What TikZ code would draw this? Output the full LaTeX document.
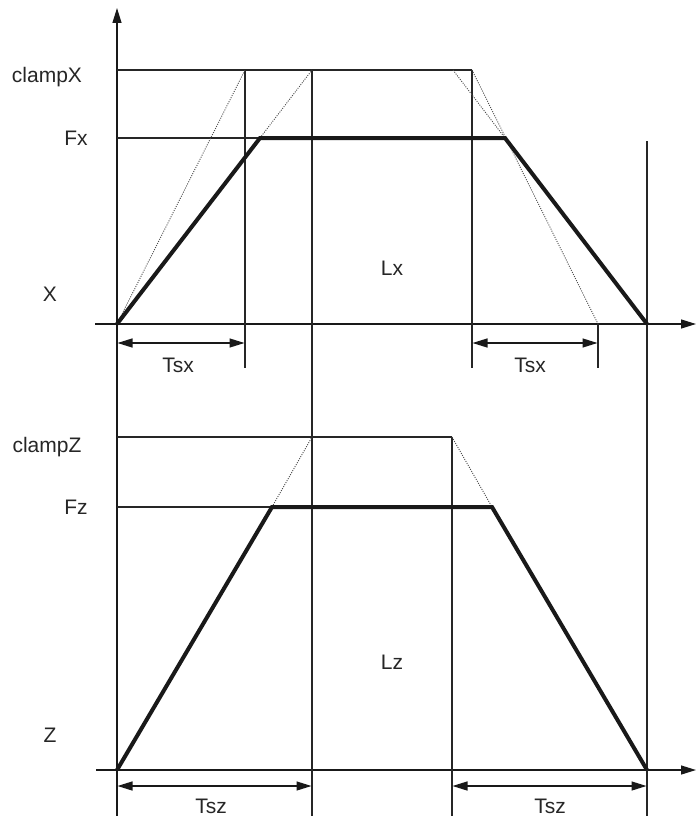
\documentclass[tikz,border=0pt]{standalone}
\usepackage{fontspec}
\setmainfont{Liberation Sans}
\usetikzlibrary{arrows.meta}
\begin{document}
\begin{tikzpicture}[x=1pt,y=-1pt,
  gridline/.style={line width=1.2pt, draw=black!85},
  ramp/.style={line width=4pt, draw=black!90, line join=miter},
  dotline/.style={line width=0.9pt, draw=black!70, dash pattern=on 1pt off 1.3pt},
  axisline/.style={line width=1.3pt, draw=black!90, -{Triangle[length=15pt,width=9pt]}},
  dimarrow/.style={line width=1.3pt, draw=black!90, {Triangle[length=15pt,width=9pt]}-{Triangle[length=15pt,width=9pt]}, shorten <=0.5pt, shorten >=0.5pt},
  lbl/.style={font=\fontsize{21}{25}\selectfont, text=black!85, inner sep=0pt}]
\useasboundingbox (0,0) rectangle (696,816);
% ---------- coordinates ----------
\coordinate (ytop) at (117,8);
\coordinate (ybot) at (117,816);
% top graph
\coordinate (O1) at (117,324);
\coordinate (A1) at (260,138);
\coordinate (B1) at (505,138);
\coordinate (E1) at (647,324);
\coordinate (xl1) at (95,324);
\coordinate (xr1) at (696,324);
\coordinate (cx0) at (117,70);
\coordinate (cx1) at (245,70);
\coordinate (cx2) at (312,70);
\coordinate (cx3) at (453,70);
\coordinate (cx4) at (472,70);
\coordinate (fx0) at (117,138);
\coordinate (v1b) at (245,368);
\coordinate (v4b) at (472,368);
\coordinate (t5a) at (598,324);
\coordinate (t5b) at (598,368);
\coordinate (v6t) at (647,141);
\coordinate (v6b) at (647,816);
\coordinate (v2b) at (312,816);
\coordinate (dA1) at (117,343);
\coordinate (dB1) at (245,343);
\coordinate (dC1) at (472,343);
\coordinate (dD1) at (598,343);
% bottom graph
\coordinate (O2) at (117,770);
\coordinate (A2) at (272,507);
\coordinate (B2) at (492,507);
\coordinate (E2) at (647,770);
\coordinate (xl2) at (96,770);
\coordinate (xr2) at (696,770);
\coordinate (cz0) at (117,437);
\coordinate (cz2) at (312,437);
\coordinate (cz3) at (452,437);
\coordinate (fz0) at (117,507);
\coordinate (v3b) at (452,816);
\coordinate (dA2) at (117,786);
\coordinate (dB2) at (312,786);
\coordinate (dC2) at (452,786);
\coordinate (dD2) at (647,786);
% ---------- grid lines ----------
\draw[axisline] (ybot) -- (ytop);
\draw[axisline] (xl1) -- (xr1);
\draw[axisline] (xl2) -- (xr2);
\draw[gridline] (cx0) -- (cx4);
\draw[gridline] (fx0) -- (B1);
\draw[gridline] (cx1) -- (v1b);
\draw[gridline] (cx2) -- (v2b);
\draw[gridline] (cx4) -- (v4b);
\draw[gridline] (t5a) -- (t5b);
\draw[gridline] (v6t) -- (v6b);
\draw[gridline] (cz0) -- (cz3);
\draw[gridline] (fz0) -- (B2);
\draw[gridline] (cz3) -- (v3b);
% ---------- dotted ----------
\draw[dotline] (O1) -- (cx1);
\draw[dotline] (A1) -- (cx2);
\draw[dotline] (cx3) -- (B1);
\draw[dotline] (cx4) -- (t5a);
\draw[dotline] (A2) -- (cz2);
\draw[dotline] (cz3) -- (B2);
% ---------- ramps ----------
\draw[ramp] (O1) -- (A1) -- (B1) -- (E1);
\draw[ramp] (O2) -- (A2) -- (B2) -- (E2);
% ---------- dimension arrows ----------
\draw[dimarrow] (dA1) -- (dB1);
\draw[dimarrow] (dC1) -- (dD1);
\draw[dimarrow] (dA2) -- (dB2);
\draw[dimarrow] (dC2) -- (dD2);
% ---------- labels ----------
\node[lbl] (lclampX) at (47,77) {clampX};
\node[lbl] (lFx) at (76,138) {Fx};
\node[lbl] (lX) at (50,294) {X};
\node[lbl] (lLx) at (392,268) {Lx};
\node[lbl] (lTsx1) at (178,365) {Tsx};
\node[lbl] (lTsx2) at (530,365) {Tsx};
\node[lbl] (lclampZ) at (47,447) {clampZ};
\node[lbl] (lFz) at (76,507) {Fz};
\node[lbl] (lZ) at (50,735) {Z};
\node[lbl] (lLz) at (392,662) {Lz};
\node[lbl] (lTsz1) at (211,806) {Tsz};
\node[lbl] (lTsz2) at (550,806) {Tsz};
\end{tikzpicture}
\end{document}
